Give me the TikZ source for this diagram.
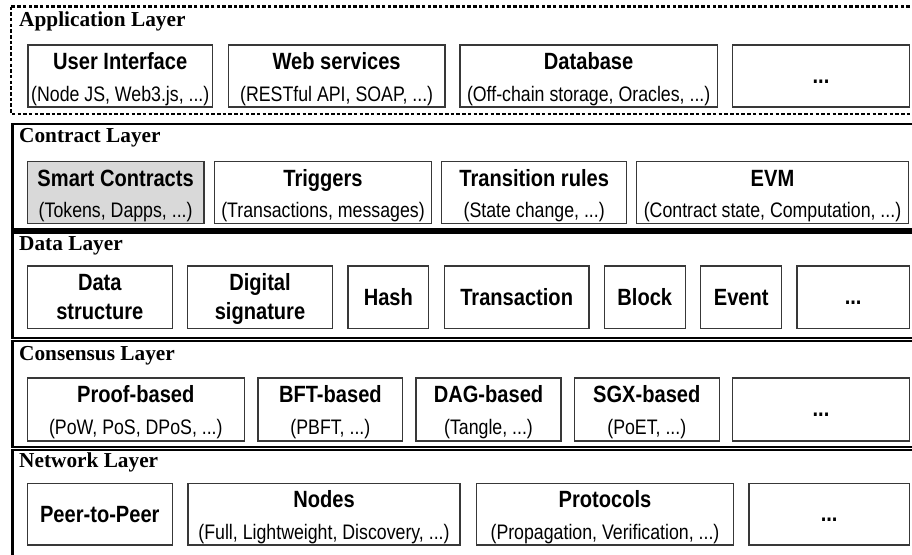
\documentclass[tikz,border=0pt]{standalone}
\usepackage{fontspec}
\setmainfont{Liberation Serif}
\newfontfamily\ttlfam{Liberation Sans}[FakeStretch=0.855]
\newfontfamily\subfam{Liberation Sans}[FakeStretch=0.845]
\newfontfamily\lyrfam{Liberation Serif}
\tikzset{
  bx/.style={draw=black!78,line width=1.3pt,fill=white,inner sep=0pt,outer sep=0pt},
  ttl/.style={font=\ttlfam\bfseries\fontsize{23.5}{28}\selectfont,inner sep=0pt,anchor=base},
  sub/.style={font=\subfam\fontsize{21}{25}\selectfont,inner sep=0pt,anchor=base},
  lyr/.style={font=\lyrfam\bfseries\fontsize{21.3}{25}\selectfont,inner sep=0pt,anchor=base west},
  layerframe/.style={draw=black,line width=2.4pt},
  appframe/.style={draw=black,line width=2.1pt,dash pattern=on 3.5pt off 2.2pt},
  grayfill/.style={fill=black!15}
}
\newcommand\Bx[6][]{\node[bx,#1,minimum width={(#4-#3)*1pt},minimum height={(#6-#5)*1pt}] (#2) at ({(#3+#4)/2},{(#5+#6)/2}) {};}
\newcommand\TwoTxt[3]{\node[ttl] (#1-t) at ([yshift=-24.5pt]#1.north) {#2};\node[sub] (#1-s) at ([yshift=-56pt]#1.north) {#3};}
\newcommand\OneTxt[2]{\node[ttl] (#1-t) at ([yshift=-8.3pt]#1.center) {#2};}
\newcommand\TwoLine[3]{\node[ttl] (#1-a) at ([yshift=-24pt]#1.north) {#2};\node[ttl] (#1-b) at ([yshift=-53.3pt]#1.north) {#3};}
\newcommand\DotTxt[1]{\node[ttl] (#1-t) at ([yshift=-7pt]#1.center) {...};}
\begin{document}
\begin{tikzpicture}[x=1pt,y=-1pt]
\useasboundingbox (0,0) rectangle (912,554);
\clip (0,0) rectangle (912,554);
\fill[white] (0,0) rectangle (912,554);
% layer frames
\draw[appframe] (11,6.5) rectangle (940,114);
\draw[layerframe] (12.5,124) rectangle (940,229.3);
\draw[layerframe] (12.5,232.3) rectangle (940,338);
\draw[layerframe] (12.5,340.8) rectangle (940,447.2);
\draw[layerframe] (12.5,450) rectangle (940,600);
% layer titles
\node[lyr] (appl) at (19,26) {Application Layer};
\node[lyr] (conl) at (19,142.7) {Contract Layer};
\node[lyr] (datl) at (19,250.7) {Data Layer};
\node[lyr] (cnsl) at (19,360) {Consensus Layer};
\node[lyr] (netl) at (19,467.3) {Network Layer};
% application layer
\Bx{ui}{28}{212.5}{45}{107}
\Bx{web}{228.3}{445}{45}{107}
\Bx{db}{460}{717.3}{45}{107}
\Bx{appd}{732.7}{909.3}{45}{107}
\TwoTxt{ui}{User Interface}{(Node JS, Web3.js, ...)}
\TwoTxt{web}{Web services}{(RESTful API, SOAP, ...)}
\TwoTxt{db}{Database}{(Off-chain storage, Oracles, ...)}
\DotTxt{appd}
% contract layer
\Bx[grayfill]{sc}{27.3}{204}{161.5}{223.5}
\Bx{trig}{214.3}{431.7}{161.5}{223.5}
\Bx{trans}{441.7}{626.7}{161.5}{223.5}
\Bx{evm}{636.7}{908.3}{161.5}{223.5}
\TwoTxt{sc}{Smart Contracts}{(Tokens, Dapps, ...)}
\TwoTxt{trig}{Triggers}{(Transactions, messages)}
\TwoTxt{trans}{Transition rules}{(State change, ...)}
\TwoTxt{evm}{EVM}{(Contract state, Computation, ...)}
% data layer
\Bx{ds}{27.3}{172.3}{266}{328.5}
\Bx{dsig}{187.7}{332.3}{266}{328.5}
\Bx{hash}{348}{428.7}{266}{328.5}
\Bx{tx}{444.3}{589}{266}{328.5}
\Bx{blk}{604.3}{685.3}{266}{328.5}
\Bx{evt}{700.7}{781.7}{266}{328.5}
\Bx{datd}{797}{909.3}{266}{328.5}
\TwoLine{ds}{Data}{structure}
\TwoLine{dsig}{Digital}{signature}
\OneTxt{hash}{Hash}
\OneTxt{tx}{Transaction}
\OneTxt{blk}{Block}
\OneTxt{evt}{Event}
\DotTxt{datd}
% consensus layer
\Bx{pb}{27.3}{244.3}{378}{441}
\Bx{bft}{258}{402.7}{378}{441}
\Bx{dag}{416}{561}{378}{441}
\Bx{sgx}{574.3}{719.3}{378}{441}
\Bx{cnsd}{732.7}{909.3}{378}{441}
\TwoTxt{pb}{Proof-based}{(PoW, PoS, DPoS, ...)}
\TwoTxt{bft}{BFT-based}{(PBFT, ...)}
\TwoTxt{dag}{DAG-based}{(Tangle, ...)}
\TwoTxt{sgx}{SGX-based}{(PoET, ...)}
\DotTxt{cnsd}
% network layer
\Bx{p2p}{27.3}{172.3}{483.3}{545}
\Bx{nodes}{188}{460}{483.3}{545}
\Bx{prot}{476.7}{733.3}{483.3}{545}
\Bx{netd}{749}{909.3}{483.3}{545}
\OneTxt{p2p}{Peer-to-Peer}
\TwoTxt{nodes}{Nodes}{(Full, Lightweight, Discovery, ...)}
\TwoTxt{prot}{Protocols}{(Propagation, Verification, ...)}
\DotTxt{netd}
\end{tikzpicture}
\end{document}
